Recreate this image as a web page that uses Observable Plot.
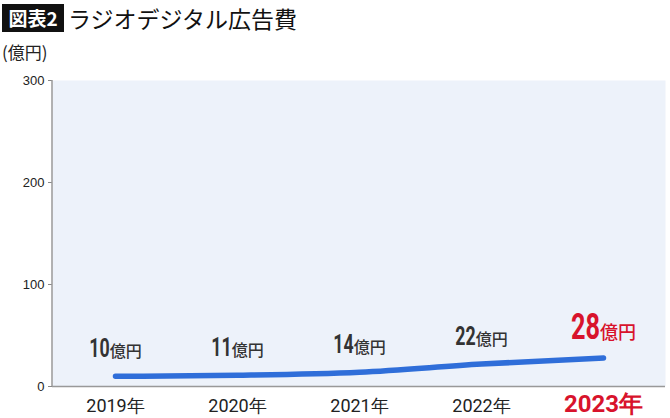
<!DOCTYPE html>
<html>
<head>
<meta charset="utf-8">
<script src="https://cdn.jsdelivr.net/npm/d3@7"></script>
<script src="https://cdn.jsdelivr.net/npm/@observablehq/plot@0.6"></script>
<style>
  html, body { margin: 0; padding: 0; background: #fff; }
  svg { display: block; }
</style>
</head>
<body>
<div id="chart"></div>
<script>
const years = ["2019年", "2020年", "2021年", "2022年", "2023年"];
const values = [10, 11, 14, 22, 28];
const yTicks = [0, 100, 200, 300];
const titleTag = "図表2";
const titleText = "ラジオデジタル広告費";
const unitLabel = "(億円)";
const valueUnit = "億円";
const highlightYear = "2023年";

const data = years.map((y, i) => ({year: y, value: values[i]}));
const RED = "#d8132c";
const mL = 52, mT = 80, mB = 32, mR = 5;

const plot = Plot.plot({
  width: 670,
  height: 418,
  marginTop: mT,
  marginBottom: mB,
  marginLeft: mL,
  marginRight: mR,
  style: {fontFamily: "'Liberation Sans', Arial, sans-serif", background: "#fff"},
  x: {type: "point", domain: years, padding: 0.5, axis: null},
  y: {domain: [0, 300], ticks: yTicks, axis: null},
  marks: [
    Plot.frame({fill: "#edf2fa", stroke: null}),
    Plot.axisY({ticks: yTicks, tickSize: 4, tickPadding: 4, fontSize: 13, color: "#222", stroke: "#888", tickFormat: d => d}),
    Plot.ruleY([0], {stroke: "#999", strokeWidth: 1.5}),
    Plot.line(data, {x: "year", y: "value", curve: "monotone-x", stroke: "#2f6ed9", strokeWidth: 5.5, strokeLinecap: "round", strokeLinejoin: "round"}),
    Plot.text(data, {x: "year", y: "value", text: d => d.value + valueUnit, dy: -19, lineAnchor: "bottom", fontSize: 25}),
    Plot.text(years.filter(y => y !== highlightYear), {x: d => d, frameAnchor: "bottom", dy: 25, lineAnchor: "bottom", fontSize: 18, fill: "#222", fontFamily: "Roboto, sans-serif"}),
    Plot.text([highlightYear], {x: d => d, frameAnchor: "bottom", dy: 25, lineAnchor: "bottom", fontSize: 24, fontWeight: 700, fill: RED, fontFamily: "Roboto, sans-serif"})
  ]
});

const svg = d3.select(plot);
const yScale = plot.scale("y");

// left axis line, positioned through the y scale
svg.append("line")
  .attr("x1", mL).attr("x2", mL)
  .attr("y1", yScale.apply(300)).attr("y2", yScale.apply(0))
  .attr("stroke", "#999").attr("stroke-width", 1.5);

// value labels: bold condensed number + smaller unit
svg.selectAll("text").filter(function() {
  return this.textContent.endsWith(valueUnit) && !this.querySelector("tspan");
}).each(function() {
  const t = d3.select(this);
  const num = t.text().replace(valueUnit, "");
  const hi = +num === values[years.indexOf(highlightYear)];
  t.text(null)
   .attr("font-family", "Roboto, 'Noto Sans CJK JP', sans-serif")
   .attr("fill", hi ? RED : "#333");
  t.append("tspan")
   .attr("font-size", hi ? 36 : 25)
   .attr("font-weight", 700)
   .attr("textLength", num.length * (hi ? 14.5 : 10.2))
   .attr("lengthAdjust", "spacingAndGlyphs")
   .text(num);
  t.append("tspan")
   .attr("font-size", hi ? 18 : 16)
   .attr("font-weight", 500)
   .attr("font-family", "'Noto Sans CJK JP', sans-serif")
   .text(valueUnit);
});

// title and unit label
const g = svg.append("g").attr("text-anchor", "start");
g.append("rect").attr("x", 2).attr("y", 4).attr("width", 62).attr("height", 28).attr("fill", "#111");
g.append("text").attr("x", 33).attr("y", 26).attr("text-anchor", "middle")
  .attr("font-family", "'Noto Sans CJK JP', sans-serif").attr("font-weight", 700)
  .attr("font-size", 19).attr("fill", "#fff").text(titleTag);
g.append("text").attr("x", 68).attr("y", 28).attr("text-anchor", "start")
  .attr("font-family", "'Noto Sans CJK JP', sans-serif").attr("font-weight", 400)
  .attr("font-size", 23).attr("fill", "#111").text(titleText);
g.append("text").attr("x", 2).attr("y", 59).attr("text-anchor", "start")
  .attr("font-family", "'Noto Sans CJK JP', sans-serif")
  .attr("font-size", 17).attr("fill", "#222").text(unitLabel);

document.getElementById("chart").append(plot);
</script>
</body>
</html>
